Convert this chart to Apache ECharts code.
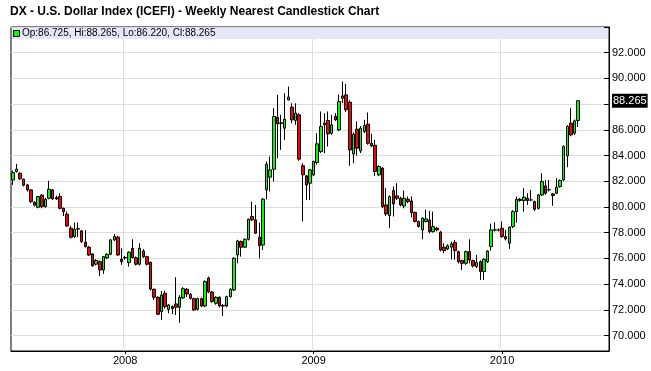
<!DOCTYPE html>
<html><head><meta charset="utf-8">
<script src="https://cdn.jsdelivr.net/npm/echarts@6/dist/echarts.min.js"></script>
<style>html,body{margin:0;padding:0;background:#fff}#c{width:651px;height:371px}</style>
</head><body><div id="c"></div>
<script>
// ---- data (weekly candles) ----
const titleText = 'DX - U.S. Dollar Index (ICEFI) - Weekly Nearest Candlestick Chart';
const firstWeek = '2007-06-01';
const weekSlots = 165; // weekly category slots on the axis (candles + empty space on the right)

const opens = [
82.11,82.76,82.63,82.16,81.72,81.33,80.37,79.98,80.92,80.03,
80.68,81.33,80.73,80.81,79.9,79.44,78.35,77.7,78.28,78.14,
77.26,76.87,76.35,75.55,75.75,75.1,76.04,76.32,77.44,77.65,
75.93,76.08,75.68,76.79,76.06,75.55,76.58,76.14,75.7,73.6,
72.98,71.86,73.29,72.04,72.25,72.46,72.2,72.93,73.6,73.21,
72.87,72.04,72.87,72.3,74.48,73.39,72.51,72.98,72.35,72.3,
73.03,73.55,76.27,77.31,76.87,77.49,79.26,79.0,77.65,77.05,
81.33,82.32,82.94,86.98,86.5,86.13,88.33,87.76,86.73,87.17,
83.2,82.42,81.85,82.5,83.46,84.31,86.39,86.73,85.74,87.04,
86.0,88.46,88.72,88.15,84.13,86.05,84.36,85.87,86.44,84.96,
84.8,82.5,83.02,80.16,79.33,81.28,80.86,80.68,80.08,80.6,
80.47,79.57,78.87,78.22,78.87,78.98,78.09,78.35,78.04,76.87,
76.74,76.87,77.23,76.53,75.83,75.62,76.53,75.83,75.37,75.75,
74.98,75.75,76.92,78.2,78.22,78.35,77.7,77.18,78.48,79.64,
80.6,80.5,80.68,80.55,80.42,79.9,80.94,81.64,81.35,81.02,
81.07,81.59,82.11,83.98,86.52,85.74,86.725];
const closes = [
82.68,82.94,82.19,81.69,81.33,80.42,80.14,80.81,80.03,80.6,
81.38,80.63,80.63,79.9,79.65,78.53,77.65,78.27,78.32,77.31,
76.92,76.27,75.42,75.84,75.1,76.14,76.32,77.44,77.7,76.27,
75.75,76.04,76.48,76.06,75.55,76.79,76.14,75.55,73.62,72.98,
71.66,73.16,72.25,72.38,72.1,72.2,72.98,73.65,73.24,72.9,
71.99,72.87,72.3,74.2,73.39,72.64,72.98,72.3,72.3,73.03,
73.6,76.01,77.36,76.87,77.49,79.05,79.0,77.96,77.0,80.61,
83.33,82.89,87.04,86.47,86.55,86.83,88.54,86.78,87.3,83.72,
82.5,81.72,82.89,83.54,84.91,86.26,86.52,85.69,86.39,86.78,
88.2,88.64,87.56,84.44,85.66,84.57,86.13,86.34,84.96,84.75,
82.76,83.15,80.03,79.46,80.81,80.24,80.68,80.16,80.68,80.42,
79.57,78.87,78.48,79.13,79.07,78.09,78.48,78.22,76.66,76.61,
76.99,77.13,76.61,75.75,75.62,76.53,75.88,75.42,75.68,74.98,
75.93,76.58,78.22,78.22,78.2,77.7,77.52,78.43,79.64,80.6,
80.5,80.76,80.5,80.55,79.82,80.94,81.98,81.07,81.33,80.89,
81.54,82.06,84.7,86.26,85.61,86.7,88.265];
const lows = [
81.72,82.68,82.1,81.6,81.2,80.3,80.04,79.9,79.9,79.95,
80.6,80.55,80.55,79.82,79.3,78.45,77.55,77.6,77.65,77.2,
76.85,76.2,75.36,75.45,74.64,74.8,75.95,76.25,77.35,76.2,
75.5,75.9,75.36,76.0,75.45,75.45,76.05,75.45,73.5,72.77,
71.6,71.21,72.1,71.73,71.66,71.6,71.0,72.85,73.0,72.8,
71.9,71.95,72.2,72.2,73.3,72.55,72.4,72.2,71.53,72.2,
72.95,73.45,75.62,76.14,76.8,77.4,78.9,77.9,76.0,76.66,
80.6,81.2,81.98,83.8,84.44,85.22,88.3,86.52,86.39,83.6,
78.87,80.55,80.55,82.4,83.3,84.2,84.18,84.7,85.6,86.7,
85.9,88.08,87.4,83.2,83.4,84.0,84.2,85.75,84.85,84.65,
82.42,82.4,79.9,79.3,78.35,79.26,80.55,80.05,79.9,80.3,
79.2,78.8,78.4,77.49,78.8,77.96,78.0,78.1,76.55,76.4,
76.65,75.93,75.9,75.62,75.1,75.5,75.62,75.3,75.25,74.33,
74.33,75.65,76.6,78.1,78.1,77.6,77.4,76.74,78.35,78.79,
80.4,79.64,80.16,80.45,79.7,79.8,80.85,80.95,81.2,80.1,
81.0,81.5,82.0,83.1,85.5,85.6,86.22];
const highs = [
82.84,83.35,82.7,82.2,81.8,81.4,80.45,80.86,81.0,80.7,
82.03,81.4,80.89,81.07,79.95,79.65,78.53,78.8,78.8,78.22,
78.22,76.95,76.4,75.95,75.85,76.2,76.4,77.5,77.9,77.75,
76.79,76.2,76.55,77.49,76.15,77.18,76.74,76.2,75.75,73.65,
73.05,73.47,73.5,72.45,72.35,74.54,73.15,73.76,73.7,73.3,
72.95,72.95,72.95,74.3,74.59,73.45,73.05,73.05,72.45,73.1,
73.7,76.1,77.45,77.4,77.55,79.1,80.42,80.16,78.79,80.7,
83.54,83.93,87.69,88.72,87.17,88.85,89.37,88.07,88.07,87.3,
83.41,82.5,82.95,83.6,85.74,87.43,87.3,87.43,87.17,87.3,
88.75,89.76,89.58,88.3,85.8,86.65,86.3,86.78,87.35,85.69,
85.22,83.25,83.1,81.46,80.9,81.6,81.85,80.8,81.28,80.82,
80.82,79.65,78.95,79.2,79.8,79.7,79.64,78.45,78.15,77.18,
77.1,77.31,77.44,76.6,75.9,76.6,77.49,75.9,76.27,75.85,
76.0,76.65,78.7,78.81,78.35,78.87,78.22,78.5,79.75,80.81,
80.7,81.46,81.07,81.33,80.5,81.0,82.63,82.11,82.11,81.1,
82.24,82.15,84.8,86.35,87.69,86.8,88.265];
const yMin = 68.8, yMax = 94, yStep = 2;

// ---- build ----
const categories = [];
const t0 = Date.parse(firstWeek + 'T00:00:00Z');
for (let i = 0; i < weekSlots; i++) categories.push(new Date(t0 + i * 7 * 86400000).toISOString().slice(0, 10));
const isYearStart = (idx, val) => { const d = new Date(categories[idx] + 'T00:00:00Z'); return d.getUTCMonth() === 0 && d.getUTCDate() <= 7; };
const candles = opens.map((o, i) => [o, closes[i], lows[i], highs[i]]);
const last = candles.length - 1;
const legendText = 'Op:' + opens[last].toFixed(3) + ', Hi:' + highs[last].toFixed(3) + ', Lo:' + lows[last].toFixed(3) + ', Cl:' + closes[last].toFixed(3);
const FONT = 'Liberation Sans, Arial, sans-serif';

const chart = echarts.init(document.getElementById('c'), null, {renderer: 'canvas'});
chart.setOption({
  animation: false,
  backgroundColor: '#fff',
  grid: {left: 11, right: 42, top: 27, bottom: 20, show: true, borderColor: '#000', borderWidth: 1, containLabel: false},
  xAxis: {
    type: 'category', data: categories, boundaryGap: true,
    axisLine: {show: true, onZero: false, lineStyle: {color: '#000', width: 1}},
    axisTick: {show: true, interval: isYearStart, alignWithLabel: true, length: 3, lineStyle: {color: '#000'}},
    axisLabel: {interval: isYearStart, formatter: v => v.slice(0, 4), color: '#000', fontSize: 11, fontFamily: FONT, margin: 4},
    splitLine: {show: true, interval: isYearStart, lineStyle: {color: '#dcdcdc', width: 1}}
  },
  yAxis: {
    type: 'value', position: 'right', min: yMin, max: yMax, splitNumber: 13, scale: true,
    axisLine: {show: true, lineStyle: {color: '#000', width: 1}},
    axisTick: {show: true, inside: true, length: 5, lineStyle: {color: '#000'}},
    axisLabel: {color: '#000', fontSize: 11, fontFamily: FONT, margin: 3,
      formatter: v => (Math.abs(v / yStep - Math.round(v / yStep)) < 1e-6 && v > yMin + 0.5 && v < yMax - 1) ? v.toFixed(3) : ''},
    splitLine: {show: true, lineStyle: {color: '#dcdcdc', width: 1}}
  },
  series: [{
    type: 'candlestick', data: candles, barWidth: 3,
    itemStyle: {color: '#00ff00', color0: '#ff0000', borderColor: '#000', borderColor0: '#000', borderColorDoji: '#000', borderWidth: 1},
    emphasis: {disabled: true},
    markLine: {
      silent: true, symbol: ['none', 'none'], animation: false,
      data: [{yAxis: closes[last]}],
      lineStyle: {color: 'rgba(0,0,0,0)', width: 0},
      label: {show: true, position: 'end', distance: 3, formatter: closes[last].toFixed(3), color: '#fff', backgroundColor: '#000', padding: [2, 1, 1, 1], fontSize: 11, fontFamily: FONT}
    }
  }],
  graphic: [
    {type: 'text', left: 10, top: 6, style: {text: titleText, font: 'bold 12px ' + FONT, fill: '#000'}},
    {type: 'rect', z: 100, shape: {x: 12, y: 28, width: 596, height: 11}, style: {fill: '#e6e6fa'}},
    {type: 'rect', z: 101, shape: {x: 13.5, y: 30.5, width: 6, height: 6}, style: {fill: '#00ff00', stroke: '#000', lineWidth: 1}},
    {type: 'text', z: 101, x: 22, y: 33.5, style: {text: legendText, font: '10px ' + FONT, fill: '#000', verticalAlign: 'middle'}}
  ]
});
</script>
</body></html>
